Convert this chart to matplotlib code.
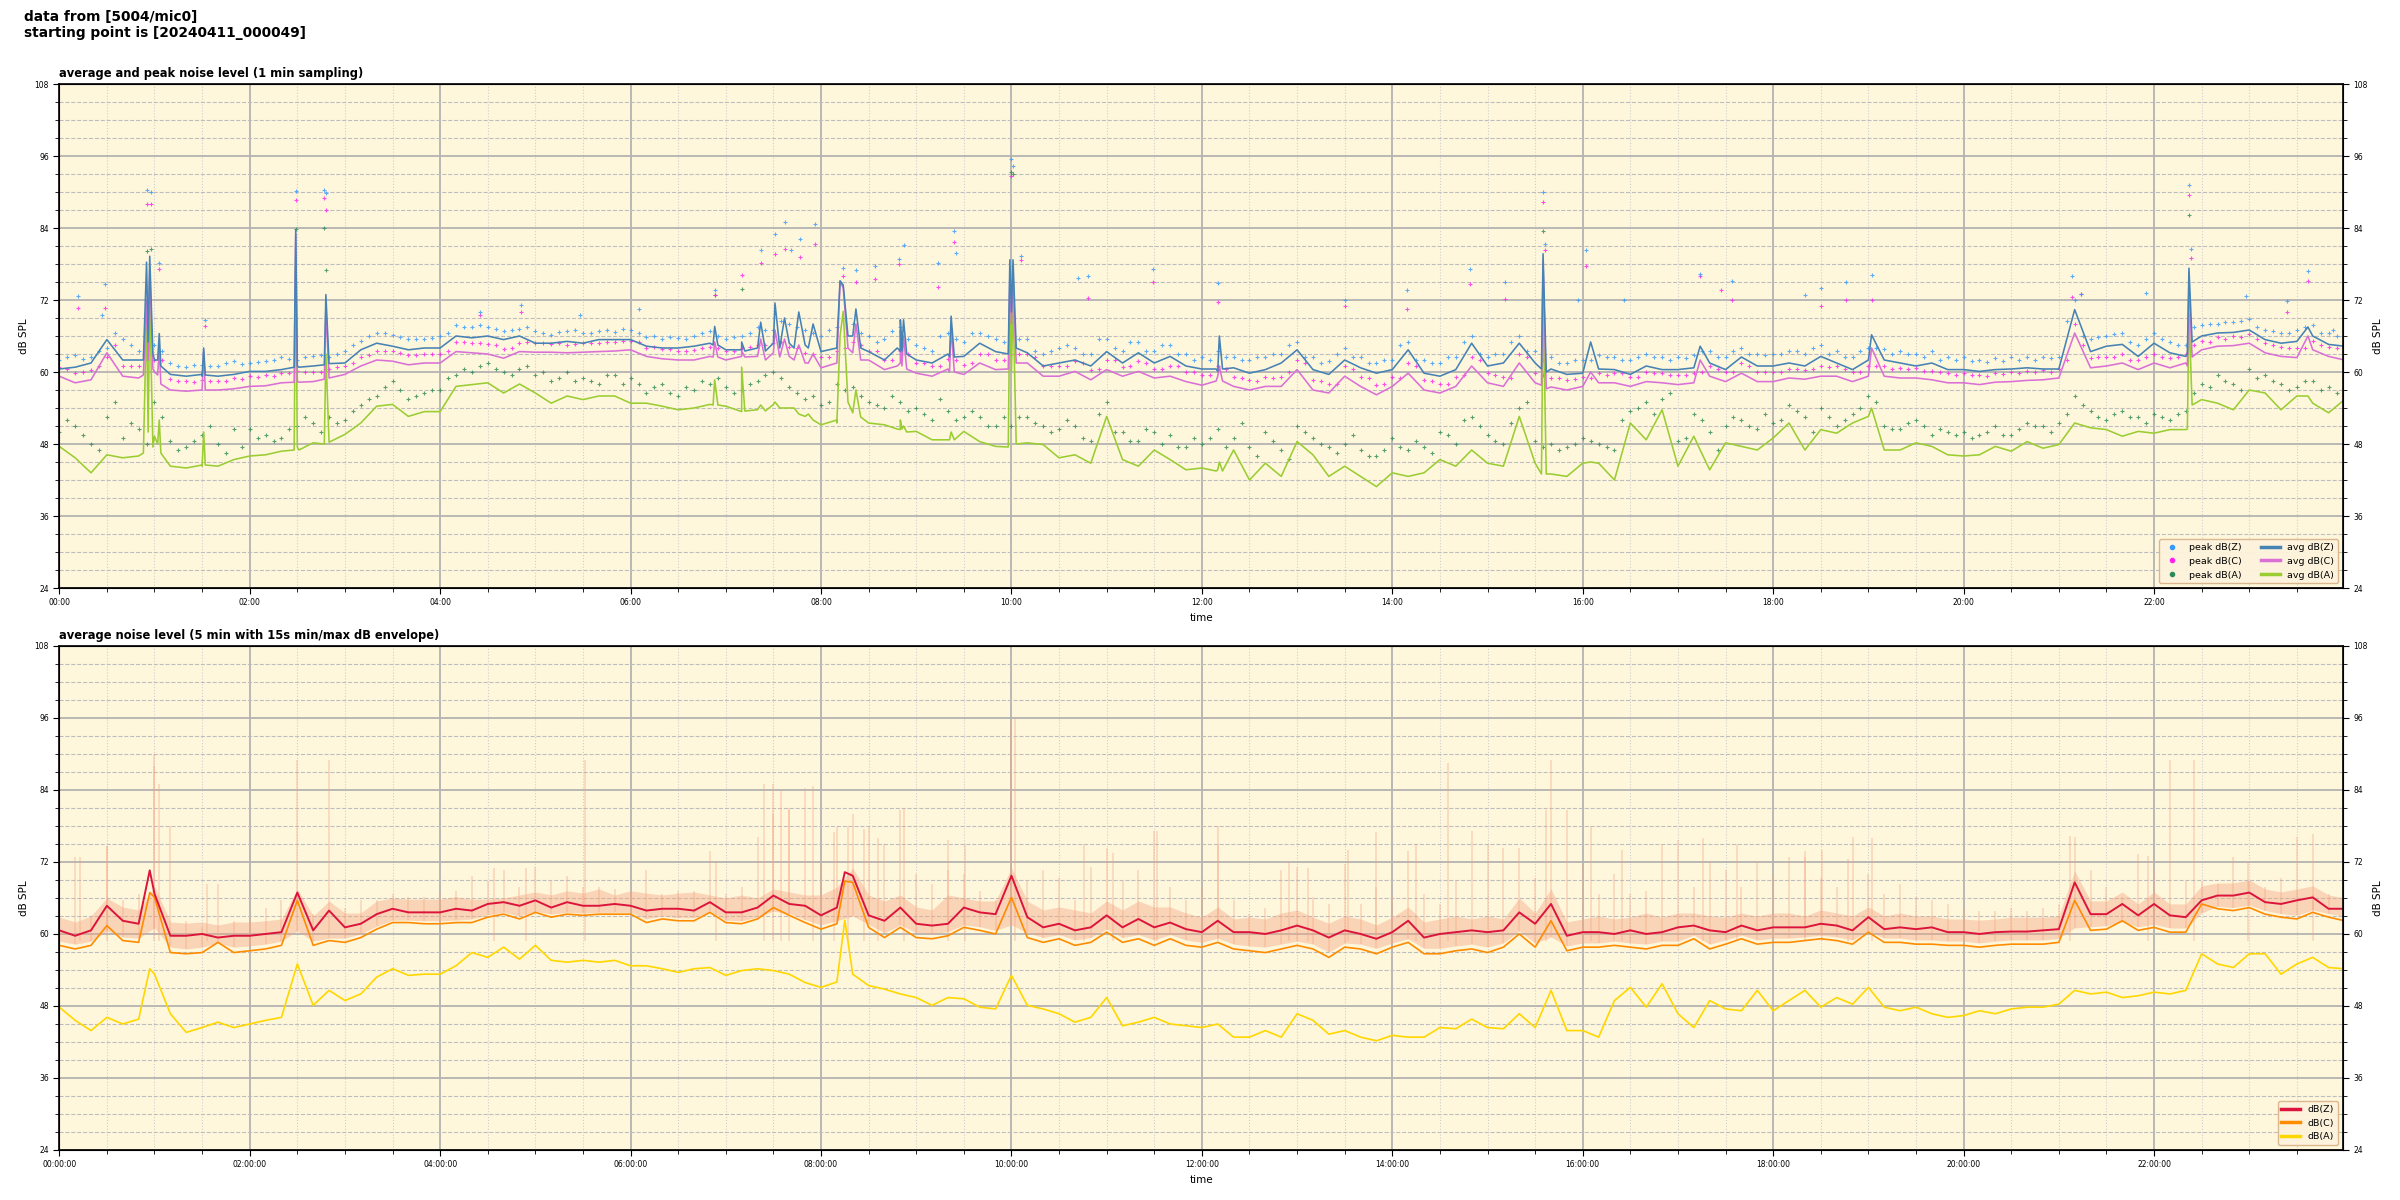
#!/usr/bin/env python3
"""Noise level of one day: 1 min avg/peak and 5 min avg with envelope."""
import numpy as np
import pandas as pd
import matplotlib

matplotlib.use("Agg")
import matplotlib.dates as mdates
import matplotlib.pyplot as plt
from matplotlib.lines import Line2D
from matplotlib.ticker import MultipleLocator

DAY = pd.Timestamp("2024-04-11")

# --- top panel: 1 min averages, read every 10 min (00:00 .. 24:00) ---
avg_minutes = np.arange(0, 1441, 10)
avg_z = [
    60.5, 60.8, 61.5, 65.4, 62.0, 62.0,  62.0, 59.6, 59.3, 59.6, 59.3, 59.6,
    60.1, 60.1, 60.4, 61.0, 61.0, 61.5,  61.5, 63.7, 64.8, 64.3, 63.7, 64.0,
    64.0, 66.0, 65.7, 66.0, 65.4, 66.0,  64.8, 64.8, 65.1, 64.8, 65.4, 65.4,
    65.4, 64.3, 64.0, 64.0, 64.3, 64.8,  63.7, 63.7, 64.0, 64.8, 64.8, 64.5,
    63.4, 64.0, 66.0, 63.4, 62.0, 63.5,  62.0, 61.5, 63.0, 62.6, 64.8, 63.4,
    70.0, 63.2, 61.0, 61.5, 62.0, 61.0,  63.4, 61.5, 63.2, 61.5, 62.6, 61.0,
    60.5, 60.1, 60.7, 59.8, 60.4, 61.5,  63.7, 60.4, 59.6, 62.0, 60.7, 59.8,
    60.4, 63.7, 59.8, 59.3, 60.4, 64.8,  61.0, 61.5, 64.8, 61.5, 60.5, 59.6,
    59.8, 60.5, 60.4, 59.6, 61.0, 60.4,  60.4, 60.7, 61.5, 60.4, 62.5, 61.0,
    61.0, 61.5, 61.0, 62.6, 61.5, 60.4,  62.0, 62.0, 61.5, 61.0, 61.5, 60.4,
    60.4, 60.1, 60.4, 60.5, 60.7, 60.5,  60.5, 70.4, 63.4, 64.3, 64.6, 62.6,
    64.8, 63.2, 62.6, 66.0, 66.5, 66.6,  67.0, 65.4, 64.8, 65.1, 66.0, 64.6,
    64.3,
]
avg_c = [
    59.3, 58.2, 58.7, 63.2, 59.3, 59.0,  60.0, 57.0, 56.8, 57.0, 57.0, 57.2,
    57.6, 57.7, 58.2, 58.4, 58.4, 59.0,  59.6, 61.0, 62.0, 61.8, 61.2, 61.5,
    61.5, 63.4, 63.2, 63.0, 62.3, 63.4,  63.3, 63.3, 63.2, 63.3, 63.4, 63.5,
    63.7, 62.6, 62.2, 62.0, 62.0, 62.6,  62.0, 62.6, 62.6, 63.2, 62.6, 61.5,
    60.7, 61.5, 63.2, 62.0, 60.4, 61.5,  59.8, 59.3, 60.5, 59.6, 61.5, 60.4,
    68.0, 61.5, 59.3, 59.3, 60.1, 58.7,  60.4, 59.3, 60.1, 59.0, 59.3, 58.4,
    57.8, 59.3, 57.6, 57.0, 57.6, 57.6,  60.4, 57.0, 56.5, 59.3, 57.6, 56.2,
    57.6, 59.8, 57.0, 56.5, 57.6, 61.0,  58.2, 57.6, 61.5, 58.2, 57.5, 57.0,
    57.6, 58.2, 58.2, 57.6, 58.4, 58.2,  57.9, 58.2, 59.3, 58.4, 59.8, 58.4,
    58.4, 59.0, 58.8, 59.3, 59.3, 58.4,  59.3, 59.3, 59.0, 59.0, 58.7, 58.2,
    58.2, 57.9, 58.3, 58.4, 58.6, 58.7,  59.0, 66.5, 60.7, 61.0, 61.5, 60.4,
    61.5, 60.7, 61.5, 63.7, 64.3, 64.4,  64.8, 63.2, 62.6, 62.4, 63.7, 62.6,
    62.0,
]
avg_a = [
    47.6, 45.7, 43.2, 46.2, 45.7, 46.0,  49.3, 44.3, 44.0, 44.5, 44.3, 45.4,
    46.0, 46.2, 46.8, 47.5, 48.2, 48.5,  49.6, 51.5, 54.3, 54.6, 52.6, 53.4,
    53.4, 57.6, 57.9, 58.2, 56.5, 58.0,  56.5, 54.8, 56.0, 55.4, 56.0, 56.0,
    54.8, 54.8, 54.3, 53.7, 54.0, 54.6,  54.3, 53.4, 53.7, 54.6, 54.0, 52.6,
    51.2, 52.0, 53.2, 51.5, 51.2, 50.4,  50.1, 48.7, 48.7, 50.1, 48.4, 47.6,
    60.0, 48.2, 47.9, 45.7, 46.2, 44.8,  52.6, 45.4, 44.3, 47.0, 45.4, 43.7,
    44.0, 43.7, 47.0, 42.0, 44.8, 42.6,  48.4, 46.2, 42.6, 44.3, 42.6, 40.9,
    43.2, 42.6, 43.2, 45.4, 44.3, 47.0,  44.8, 44.3, 52.6, 44.8, 43.0, 42.6,
    44.8, 44.8, 42.0, 51.5, 48.7, 53.7,  44.3, 49.3, 43.7, 48.2, 47.6, 47.0,
    49.0, 51.5, 47.0, 50.4, 49.8, 51.5,  52.6, 47.0, 47.0, 48.2, 47.6, 46.2,
    46.0, 46.2, 47.6, 46.8, 48.4, 47.3,  47.9, 51.5, 50.7, 50.4, 49.3, 50.1,
    49.8, 50.4, 50.4, 55.4, 54.8, 53.7,  57.0, 56.5, 53.7, 56.0, 54.8, 53.2,
    55.4,
]

# short events in the 1 min averages: minute, Z, C, A
spike_minutes = [
    53, 55, 56, 57, 59, 62, 63, 64, 90, 91, 92, 148, 149, 151, 167, 168, 170,
    412, 413, 415, 430, 432, 442, 445, 451, 454, 457, 463, 466, 472, 475,
    490, 492, 494, 497, 502, 505, 528, 530, 531, 532, 534, 561, 562, 564,
    598, 599, 601, 603, 729, 731, 733, 934, 935, 937, 965, 1034, 1142,
    1341, 1342, 1344, 1417,
]
spike_z = [
    62.0, 78.3, 65.0, 79.3, 63.0, 62.0, 66.4, 61.0, 59.3, 64.0, 59.5, 60.8, 83.7, 60.8, 61.2, 72.9, 61.4,
    64.5, 67.6, 64.5, 65.0, 63.5, 68.3, 63.5, 71.5, 64.0, 69.0, 64.0, 70.0, 64.0, 68.0,
    64.5, 75.2, 74.5, 66.0, 70.5, 64.0, 64.0, 68.7, 63.5, 68.7, 63.0, 62.5, 69.3, 62.5,
    63.0, 78.7, 78.7, 64.0, 60.5, 66.0, 60.5, 60.5, 79.7, 60.0, 65.0, 64.3, 66.2,
    63.0, 77.3, 65.0, 67.5,
]
spike_c = [
    59.5, 72.0, 62.0, 77.0, 60.5, 59.5, 64.0, 58.0, 57.0, 63.4, 57.0, 58.3, 83.0, 58.3, 58.8, 70.4, 59.0,
    62.5, 65.0, 62.5, 63.5, 62.5, 65.5, 62.0, 67.0, 62.5, 65.5, 62.0, 64.5, 61.5, 63.0,
    61.5, 75.1, 74.0, 64.0, 68.0, 62.0, 61.0, 67.0, 61.0, 66.0, 60.5, 60.0, 67.5, 60.0,
    60.5, 76.0, 76.0, 61.5, 58.5, 61.0, 58.5, 57.8, 78.4, 57.2, 60.0, 62.0, 64.0,
    61.0, 74.8, 62.5, 66.0,
]
spike_a = [
    46.5, 70.0, 50.0, 72.0, 47.5, 48.0, 52.0, 46.5, 44.3, 50.0, 44.5, 47.0, 79.0, 47.0, 48.0, 63.0, 48.3,
    54.5, 58.7, 54.5, 60.8, 53.5, 54.5, 53.5, 55.0, 54.0, 54.0, 54.0, 53.0, 53.0, 52.0,
    51.5, 66.0, 70.1, 55.0, 57.0, 52.5, 50.5, 52.0, 50.5, 51.0, 50.0, 48.7, 50.0, 48.7,
    47.5, 72.0, 72.0, 48.0, 43.5, 45.0, 43.5, 43.0, 73.2, 43.0, 45.0, 47.0, 54.0,
    50.5, 69.8, 54.5, 56.0,
]

# peak levels, two readings per 10 min (at :00 and :05, :10 and :15, ...)
peak_minutes = np.arange(5, 1440, 10)
peak_minutes2 = np.arange(0, 1440, 10)
peak_z = [
    62.5, 62.2, 63.5, 66.5, 64.5, 64.0,  63.5, 61.0, 61.2, 61.0, 61.5, 61.3,
    61.7, 62.0, 62.2, 62.5, 62.8, 63.0,  64.5, 66.0, 66.5, 65.8, 65.5, 65.7,
    66.5, 67.5, 67.8, 67.2, 67.0, 67.5,  66.5, 66.6, 67.0, 66.5, 67.0, 67.2,
    66.5, 66.0, 65.8, 65.5, 66.5, 66.0,  65.8, 66.5, 67.0, 68.5, 67.5, 66.5,
    67.0, 69.0, 66.5, 65.0, 66.8, 65.5,  64.0, 66.0, 65.5, 66.5, 66.0, 65.0,
    65.5, 63.5, 63.5, 64.5, 63.0, 65.5,  64.0, 65.0, 63.5, 64.5, 63.0, 62.0,
    62.0, 62.5, 62.0, 62.5, 63.0, 64.5,  62.5, 61.5, 63.0, 62.5, 61.5, 62.0,
    64.5, 62.0, 61.5, 62.5, 65.0, 63.0,  63.0, 65.0, 63.5, 62.0, 61.5, 62.0,
    62.0, 62.5, 62.0, 62.5, 62.5, 62.0,  62.3, 63.5, 62.5, 63.5, 63.0, 62.8,
    63.0, 63.5, 64.0, 63.0, 62.5, 63.5,  64.0, 63.0, 63.0, 62.5, 62.0, 62.0,
    61.8, 61.6, 61.8, 62.0, 62.0, 62.3,  68.5, 66.0, 65.8, 66.3, 65.0, 65.5,
    65.5, 64.5, 67.5, 68.0, 68.3, 68.5,  67.5, 66.8, 66.5, 67.5, 66.5, 66.0,
]
peak_z2 = [
    62.0, 62.8, 62.5, 64.0, 65.5, 63.5,  64.5, 61.5, 60.8, 61.2, 61.0, 61.8,
    61.5, 61.8, 62.5, 62.0, 62.6, 62.5,  63.5, 65.2, 66.5, 66.2, 65.5, 65.5,
    66.0, 67.8, 67.5, 67.5, 66.8, 67.2,  66.8, 66.2, 66.8, 66.5, 66.8, 66.6,
    67.0, 65.8, 65.5, 65.7, 66.0, 66.8,  65.5, 66.0, 67.5, 67.0, 68.0, 67.0,
    66.0, 67.5, 68.0, 66.0, 65.5, 67.5,  64.5, 63.5, 66.5, 65.0, 66.5, 65.5,
    66.0, 65.5, 63.0, 64.0, 64.0, 63.0,  65.5, 63.5, 65.0, 63.5, 64.5, 63.0,
    62.5, 63.5, 62.5, 62.0, 62.5, 63.0,  65.0, 62.5, 61.8, 64.0, 62.5, 61.5,
    62.0, 65.0, 62.0, 61.5, 62.5, 66.0,  62.5, 63.0, 66.0, 63.5, 62.5, 61.5,
    62.0, 62.8, 62.5, 62.0, 63.0, 62.5,  62.5, 62.8, 63.5, 62.5, 64.0, 63.0,
    63.0, 63.5, 63.0, 64.5, 63.5, 62.5,  64.0, 63.8, 63.5, 63.0, 63.5, 62.5,
    62.5, 62.0, 62.3, 62.5, 62.5, 62.5,  62.5, 72.0, 65.5, 66.0, 66.5, 64.5,
    66.5, 65.0, 64.5, 67.8, 68.0, 68.3,  68.8, 67.0, 66.5, 67.0, 67.8, 66.5,
]
peak_c = [
    60.5, 60.0, 61.0, 64.5, 61.0, 62.0,  62.0, 58.5, 58.3, 58.5, 58.5, 58.8,
    59.2, 59.3, 59.8, 60.0, 60.0, 60.8,  61.5, 62.8, 63.5, 63.2, 62.8, 63.0,
    63.5, 65.0, 64.8, 64.5, 64.0, 65.0,  64.8, 64.8, 64.7, 64.8, 65.0, 65.2,
    65.0, 64.2, 63.8, 63.5, 64.0, 64.0,  63.5, 64.2, 64.5, 65.0, 64.0, 63.0,
    62.5, 64.0, 64.5, 63.5, 62.0, 63.0,  61.5, 61.0, 62.0, 61.5, 63.0, 62.0,
    63.0, 62.5, 61.0, 61.0, 61.5, 60.5,  62.0, 61.0, 61.5, 60.5, 61.0, 60.0,
    59.5, 60.5, 59.0, 58.5, 59.0, 60.0,  61.5, 58.5, 58.0, 60.5, 59.0, 58.0,
    59.0, 61.0, 58.5, 58.0, 59.5, 62.0,  59.5, 59.0, 62.5, 59.5, 59.0, 58.8,
    59.0, 59.5, 59.8, 59.2, 59.8, 59.5,  59.5, 60.0, 60.5, 60.0, 61.0, 60.0,
    60.0, 60.5, 60.5, 60.8, 60.5, 60.0,  61.0, 60.5, 60.5, 60.2, 60.0, 59.5,
    59.5, 59.3, 59.6, 59.8, 60.0, 60.0,  62.0, 64.5, 62.5, 62.5, 62.0, 62.5,
    62.5, 62.5, 64.5, 65.0, 65.5, 65.8,  65.5, 64.5, 64.0, 64.0, 64.5, 64.0,
]
peak_c2 = [
    60.8, 59.8, 60.3, 62.5, 61.0, 61.0,  62.0, 58.8, 58.5, 58.7, 58.5, 59.0,
    59.3, 59.5, 59.8, 60.2, 60.0, 60.5,  61.0, 62.5, 63.5, 63.5, 62.8, 63.0,
    63.0, 65.0, 64.8, 64.6, 63.8, 64.8,  64.8, 64.6, 64.5, 64.8, 64.8, 65.0,
    65.2, 64.0, 63.8, 63.5, 63.7, 64.2,  63.5, 64.0, 64.5, 64.8, 64.2, 63.2,
    62.5, 63.5, 65.0, 63.5, 62.0, 63.5,  61.5, 61.0, 62.2, 61.2, 63.0, 62.0,
    63.0, 63.0, 61.0, 61.0, 61.8, 60.3,  62.0, 60.8, 61.8, 60.5, 61.0, 60.0,
    59.5, 61.0, 59.2, 58.6, 59.2, 59.2,  62.0, 58.6, 58.0, 61.0, 59.2, 57.8,
    59.2, 61.5, 58.6, 58.0, 59.2, 62.5,  59.8, 59.2, 63.0, 59.8, 59.0, 58.6,
    59.2, 59.8, 59.8, 59.2, 60.0, 59.8,  59.5, 59.8, 61.0, 60.0, 61.5, 60.0,
    60.0, 60.5, 60.3, 61.0, 61.0, 60.0,  61.0, 61.0, 60.6, 60.6, 60.2, 59.8,
    59.8, 59.5, 59.9, 60.0, 60.2, 60.3,  60.5, 68.0, 62.3, 62.5, 63.0, 62.0,
    63.0, 62.3, 63.0, 65.2, 65.8, 66.0,  66.3, 64.8, 64.2, 64.0, 65.2, 64.2,
]
peak_a = [
    52.0, 49.5, 47.0, 55.0, 51.5, 48.0,  52.5, 47.0, 48.5, 51.0, 46.5, 47.5,
    49.0, 48.5, 50.5, 52.5, 50.0, 51.5,  53.5, 55.5, 57.5, 57.0, 56.0, 57.0,
    59.0, 60.5, 61.0, 60.5, 59.5, 61.0,  60.0, 59.0, 58.5, 58.5, 59.5, 58.0,
    58.0, 57.5, 56.5, 57.5, 58.5, 59.0,  56.5, 58.0, 59.5, 59.0, 56.5, 56.0,
    55.0, 57.0, 56.0, 54.5, 56.0, 53.5,  53.0, 55.5, 52.0, 53.5, 51.0, 52.5,
    52.5, 51.5, 50.0, 52.0, 49.0, 53.0,  50.0, 48.5, 50.5, 48.0, 47.5, 49.0,
    49.0, 47.5, 51.5, 46.0, 48.5, 45.5,  50.0, 48.0, 46.5, 49.5, 46.0, 47.0,
    47.5, 48.5, 46.5, 49.5, 52.0, 51.0,  48.5, 51.5, 55.0, 47.5, 47.0, 48.0,
    48.5, 47.5, 52.0, 54.0, 53.0, 56.5,  49.0, 52.0, 47.0, 52.5, 51.0, 53.0,
    52.0, 53.5, 50.0, 52.5, 52.0, 54.0,  55.0, 50.5, 51.5, 51.0, 50.5, 49.5,
    49.0, 50.0, 49.5, 50.5, 51.0, 50.0,  53.0, 54.5, 52.5, 53.0, 52.5, 51.5,
    52.5, 53.0, 56.5, 57.5, 58.5, 57.0,  59.0, 58.5, 57.0, 58.5, 57.0, 56.5,
]
peak_a2 = [
    50.0, 51.0, 48.0, 52.5, 49.0, 50.5,  55.0, 48.5, 47.5, 49.5, 48.0, 50.5,
    50.5, 49.5, 49.0, 51.0, 51.5, 52.5,  52.0, 54.5, 56.0, 58.5, 55.5, 56.5,
    57.0, 59.5, 60.0, 61.5, 60.0, 60.5,  59.5, 58.5, 60.0, 59.0, 58.0, 59.5,
    59.0, 56.5, 58.0, 56.0, 57.0, 58.0,  57.5, 57.0, 58.5, 60.0, 57.5, 55.5,
    54.5, 58.0, 57.5, 55.0, 54.0, 55.0,  54.0, 52.0, 53.5, 52.5, 52.5, 51.0,
    51.0, 52.5, 51.0, 50.5, 51.0, 48.5,  55.0, 50.0, 48.5, 50.0, 49.5, 47.5,
    48.0, 50.5, 49.0, 47.5, 50.0, 47.0,  51.0, 49.0, 47.5, 48.0, 47.0, 46.0,
    49.0, 47.0, 47.5, 50.0, 48.0, 52.5,  49.5, 48.0, 54.0, 48.5, 48.0, 47.5,
    49.0, 48.0, 47.0, 53.5, 55.0, 55.5,  48.5, 53.0, 50.0, 51.0, 52.0, 50.5,
    51.5, 54.5, 52.5, 54.0, 51.0, 53.0,  56.0, 51.0, 50.5, 52.0, 49.5, 50.0,
    50.0, 49.5, 51.0, 49.5, 51.5, 51.0,  51.5, 56.0, 53.5, 52.0, 53.5, 52.5,
    53.0, 52.0, 53.5, 58.0, 59.5, 58.0,  60.5, 59.5, 58.0, 57.5, 58.5, 57.5,
]

# single high peak readings
peak_z_out_min = [12, 27, 29, 55, 58, 63, 92, 149, 167, 168, 265, 291, 328, 365, 413, 442, 451, 457,
                  461, 467, 476, 494, 502, 514, 529, 532, 554, 564, 565, 600, 601, 606, 642, 648,
                  689, 730, 810, 849, 889, 911, 935, 936, 957, 962, 986, 1034, 1054, 1100, 1110,
                  1126, 1142, 1268, 1274, 1315, 1342, 1343, 1378, 1404, 1417, 1433]
peak_z_out = [72.7, 69.5, 74.7, 90.4, 90.0, 78.2, 68.6, 90.2, 90.4, 89.8, 70.0, 71.2, 69.5, 70.5, 73.7,
              80.4, 83.0, 85.0, 80.4, 82.2, 84.6, 77.4, 77.0, 77.7, 78.8, 81.2, 78.2, 83.5, 79.8, 95.5,
              94.3, 79.4, 75.7, 76.0, 77.2, 74.8, 72.0, 73.7, 77.1, 75.0, 90.0, 81.3, 72.0, 80.4, 72.0,
              76.3, 75.2, 72.9, 74.0, 75.0, 76.2, 76.0, 73.0, 73.2, 91.2, 80.5, 72.6, 71.9, 76.8, 67.0]
peak_c_out_min = [12, 29, 55, 58, 63, 92, 149, 167, 168, 265, 291, 413, 430, 442, 451, 457, 467, 476,
                  494, 502, 514, 529, 554, 564, 600, 606, 648, 689, 730, 810, 849, 889, 911, 935,
                  936, 962, 1034, 1047, 1054, 1110, 1126, 1142, 1268, 1274, 1342, 1343, 1404, 1417]
peak_c_out = [70.7, 70.7, 88.0, 88.0, 77.2, 67.6, 88.6, 89.0, 87.0, 69.5, 70.0, 72.8, 76.2, 78.2, 79.6,
              80.5, 79.2, 81.4, 76.0, 75.0, 75.5, 78.0, 74.2, 81.6, 92.6, 78.6, 72.3, 75.0, 71.7, 71.0,
              70.5, 74.7, 72.2, 88.3, 80.3, 77.7, 76.0, 73.7, 72.0, 71.0, 72.0, 72.0, 72.5, 73.0, 89.5,
              79.0, 70.0, 75.2]
peak_a_out_min = [55, 58, 149, 167, 168, 413, 430, 600, 601, 935, 1342]
peak_a_out = [80.1, 80.5, 83.8, 84.0, 77.0, 72.8, 73.8, 93.4, 93.0, 83.5, 86.2]

# --- bottom panel: 5 min averages, read every 10 min ---
bot_z = [
    60.6, 59.7, 60.6, 64.7, 62.2, 61.7, 66.7, 59.7, 59.7, 60.0, 59.4, 59.7,
    59.7, 60.0, 60.3, 66.9, 60.6, 63.9, 61.1, 61.7, 63.3, 64.2, 63.6, 63.6,
    63.6, 64.2, 63.9, 65.0, 65.3, 64.7, 65.6, 64.4, 65.3, 64.7, 64.7, 65.0,
    64.7, 63.9, 64.2, 64.2, 63.9, 65.3, 63.6, 63.6, 64.4, 66.4, 65.0, 64.7,
    63.1, 64.4, 69.7, 63.1, 62.2, 64.4, 61.7, 61.4, 61.7, 64.4, 63.6, 63.3,
    69.7, 62.8, 61.1, 61.7, 60.6, 61.1, 63.1, 61.1, 62.5, 61.1, 61.9, 60.8,
    60.3, 62.2, 60.3, 60.3, 60.0, 60.6, 61.4, 60.6, 59.4, 60.6, 60.0, 59.2,
    60.3, 62.2, 59.4, 60.0, 60.3, 60.6, 60.3, 60.6, 63.6, 61.7, 65.0, 59.7,
    60.3, 60.3, 60.0, 60.6, 60.0, 60.3, 61.1, 61.4, 60.6, 60.3, 61.4, 60.6,
    61.1, 61.1, 61.1, 61.7, 61.4, 60.6, 62.8, 60.8, 61.1, 60.8, 61.1, 60.3,
    60.3, 60.0, 60.3, 60.4, 60.4, 60.6, 60.8, 68.6, 63.3, 63.3, 65.0, 63.1,
    65.0, 63.1, 62.8, 65.6, 66.4, 66.4, 66.9, 65.3, 65.0, 65.6, 66.1, 64.2,
    64.2,
]
bot_c = [
    58.1, 57.5, 58.1, 61.4, 58.9, 58.6, 66.1, 56.9, 56.7, 56.9, 58.6, 56.9,
    57.2, 57.5, 58.1, 65.6, 58.1, 58.9, 58.6, 59.4, 60.8, 61.9, 61.9, 61.7,
    61.7, 61.9, 61.9, 62.8, 63.3, 62.5, 63.6, 62.8, 63.3, 63.1, 63.3, 63.3,
    63.3, 61.9, 62.5, 62.2, 62.2, 63.6, 61.9, 61.7, 62.5, 64.4, 63.1, 61.9,
    60.8, 61.7, 68.6, 61.1, 59.4, 61.1, 59.4, 59.2, 59.7, 61.1, 60.6, 60.0,
    66.1, 59.4, 58.6, 59.2, 58.1, 58.6, 60.3, 58.6, 59.2, 58.1, 59.2, 58.1,
    57.8, 58.6, 57.5, 57.2, 56.9, 57.5, 58.1, 57.5, 56.1, 57.8, 57.5, 56.7,
    57.8, 58.6, 56.7, 56.7, 57.2, 57.5, 56.9, 57.8, 60.0, 57.8, 62.2, 57.2,
    57.8, 57.8, 58.1, 57.8, 57.5, 58.1, 58.1, 59.2, 57.5, 58.3, 59.2, 58.3,
    58.6, 58.6, 58.9, 59.2, 58.9, 58.3, 60.3, 58.6, 58.6, 58.3, 58.3, 58.1,
    58.1, 57.8, 58.1, 58.3, 58.3, 58.3, 58.6, 65.6, 60.6, 60.8, 62.2, 60.6,
    61.1, 60.3, 60.3, 65.0, 64.2, 63.9, 64.4, 63.3, 62.8, 62.5, 63.6, 62.8,
    62.2,
]
bot_a = [
    47.8, 45.6, 43.9, 46.1, 45.0, 45.8, 53.3, 46.7, 43.6, 44.4, 45.3, 44.4,
    45.0, 45.6, 46.1, 55.0, 48.1, 50.6, 48.9, 50.0, 52.8, 54.2, 53.1, 53.3,
    53.3, 54.7, 56.9, 56.1, 57.8, 55.8, 58.1, 55.6, 55.3, 55.6, 55.3, 55.6,
    54.7, 54.7, 54.2, 53.6, 54.2, 54.4, 53.1, 53.9, 54.2, 53.9, 53.3, 51.9,
    51.1, 52.0, 53.3, 51.4, 50.8, 50.0, 49.4, 48.1, 49.4, 49.2, 47.8, 47.5,
    53.1, 48.1, 47.5, 46.7, 45.3, 46.1, 49.4, 44.7, 45.3, 46.1, 45.0, 44.7,
    44.4, 45.0, 42.8, 42.8, 43.9, 42.8, 46.7, 45.6, 43.3, 43.9, 42.8, 42.2,
    43.1, 42.8, 42.8, 44.4, 44.2, 45.8, 44.4, 44.2, 46.7, 44.4, 50.6, 43.9,
    43.9, 42.8, 48.9, 51.1, 47.8, 51.7, 46.7, 44.4, 48.9, 47.5, 47.2, 50.6,
    47.2, 48.9, 50.6, 47.8, 49.4, 48.3, 51.1, 47.8, 47.2, 47.8, 46.7, 46.1,
    46.4, 47.2, 46.7, 47.5, 47.8, 47.8, 48.3, 50.6, 50.0, 50.3, 49.4, 49.7,
    50.3, 50.0, 50.6, 56.7, 55.0, 54.4, 56.7, 56.7, 53.3, 55.0, 56.1, 54.4,
    54.2,
]
bot_spike_minutes = [57, 495]
bot_spike_z = [70.6, 70.3]
bot_spike_c = [66.9, 68.8]
bot_spike_a = [54.2, 62.3]

# 15 s min/max envelope, read every 10 min: lower edge, dense upper edge, highest max
env_min = [
    58.8, 58.3, 58.8, 60.5, 59.5, 59.3, 61.0, 57.8, 57.5, 57.8, 58.5, 57.8,
    58.0, 58.3, 58.8, 60.5, 58.8, 59.3, 59.3, 60.0, 61.3, 62.3, 62.3, 62.2,
    62.2, 62.3, 62.5, 63.2, 63.6, 63.0, 63.8, 63.3, 63.6, 63.5, 63.6, 63.6,
    63.6, 62.5, 63.0, 62.7, 62.7, 63.8, 62.3, 62.2, 62.8, 63.8, 63.4, 62.4,
    61.5, 62.2, 63.0, 61.6, 60.2, 61.5, 60.2, 60.0, 60.4, 61.5, 61.2, 60.6,
    61.5, 60.2, 59.4, 59.9, 59.0, 59.4, 60.8, 59.4, 59.9, 59.0, 59.9, 59.0,
    58.6, 59.3, 58.3, 58.0, 57.8, 58.3, 58.8, 58.3, 57.0, 58.5, 58.3, 57.6,
    58.5, 59.2, 57.6, 57.6, 58.0, 58.3, 57.8, 58.5, 60.5, 58.5, 59.5, 58.0,
    58.5, 58.5, 58.8, 58.5, 58.3, 58.8, 58.8, 59.8, 58.3, 59.0, 59.8, 59.0,
    59.3, 59.3, 59.5, 59.8, 59.5, 59.0, 60.5, 59.3, 59.3, 59.0, 59.0, 58.8,
    58.8, 58.5, 58.8, 59.0, 59.0, 59.0, 59.3, 61.0, 61.2, 61.4, 62.0, 61.2,
    61.6, 61.0, 61.0, 63.5, 64.6, 64.4, 64.8, 63.9, 63.4, 63.1, 64.0, 63.4,
    62.9,
]
env_top = [
    62.8, 62.0, 63.0, 66.0, 64.5, 64.0, 68.0, 62.0, 61.8, 62.0, 61.5, 62.0,
    62.0, 62.2, 62.5, 67.5, 63.0, 65.5, 63.5, 63.5, 65.5, 66.0, 65.8, 65.8,
    65.8, 66.2, 65.8, 65.8, 66.0, 66.5, 67.0, 66.5, 67.2, 66.8, 67.5, 66.5,
    67.2, 66.8, 66.5, 66.8, 67.0, 66.5, 66.0, 66.5, 66.0, 67.5, 67.0, 66.5,
    66.5, 67.8, 71.0, 66.5, 65.5, 66.5, 64.5, 64.0, 66.5, 66.0, 65.5, 65.5,
    71.0, 65.5, 64.0, 64.5, 64.0, 63.5, 65.5, 64.0, 65.5, 64.5, 64.5, 63.5,
    62.8, 64.5, 62.5, 62.8, 62.5, 63.5, 64.0, 62.8, 61.8, 63.0, 62.5, 61.5,
    62.8, 64.5, 62.0, 62.5, 63.0, 62.5, 63.0, 62.5, 66.0, 63.5, 67.5, 62.0,
    62.5, 63.0, 62.5, 62.8, 63.5, 62.8, 63.5, 63.5, 63.0, 62.8, 63.5, 63.0,
    63.5, 63.5, 63.0, 64.0, 63.5, 63.0, 64.5, 63.0, 63.5, 63.0, 63.0, 62.5,
    62.5, 62.3, 62.5, 62.8, 62.8, 62.8, 63.0, 70.5, 65.5, 65.5, 67.0, 65.0,
    67.0, 65.0, 65.0, 68.0, 68.5, 68.5, 69.0, 67.5, 67.0, 67.5, 68.0, 66.5,
    66.0,
]
env_max = [
    63.3, 72.8, 62.8, 74.7, 65.6, 66.7, 90.0, 78.0, 62.2, 61.1, 68.3, 62.2,
    62.8, 64.4, 65.6, 89.0, 63.3, 89.0, 64.4, 65.6, 65.6, 66.7, 66.1, 66.1,
    66.7, 67.2, 69.7, 68.9, 70.6, 67.8, 71.1, 68.9, 69.7, 67.8, 67.8, 67.5,
    66.7, 70.6, 66.7, 67.2, 67.2, 73.9, 66.7, 67.8, 76.1, 85.0, 80.6, 84.4,
    72.2, 77.8, 80.0, 77.8, 75.0, 80.6, 70.0, 68.3, 70.6, 70.0, 67.2, 65.6,
    95.5, 68.9, 70.6, 69.4, 65.6, 71.1, 74.4, 68.9, 70.6, 77.2, 67.8, 65.6,
    67.8, 75.0, 65.6, 63.3, 64.4, 70.6, 71.1, 66.1, 65.0, 71.7, 65.0, 67.8,
    66.1, 73.9, 66.7, 65.0, 68.9, 77.2, 75.0, 74.4, 74.4, 69.4, 89.0, 80.6,
    71.7, 66.7, 70.0, 66.7, 67.2, 75.0, 75.6, 67.8, 72.2, 70.6, 67.8, 72.2,
    70.0, 72.8, 73.9, 69.4, 67.8, 76.1, 70.0, 66.7, 68.3, 66.1, 65.6, 65.0,
    64.4, 63.9, 63.9, 64.4, 63.9, 64.4, 65.0, 76.1, 70.6, 67.8, 66.1, 73.3,
    70.6, 89.0, 68.9, 68.9, 68.3, 72.8, 68.9, 67.8, 69.4, 76.1, 66.7, 66.7,
    65.6,
]
# extra tall 15 s maxima between the 10 min readings
env_peak_minutes = [13, 30, 60, 63, 93, 274, 294, 331, 414, 444, 450, 455, 460, 475, 488, 497, 507,
                    516, 532, 560, 571, 602, 646, 664, 692, 730, 775, 787, 812, 830, 855, 875, 937,
                    965, 985, 1036, 1057, 1100, 1111, 1127, 1142, 1267, 1316, 1345, 1379, 1420]
env_peak_val = [72.8, 74.7, 88.0, 85.0, 68.3, 71.0, 71.0, 89.0, 72.2, 85.0, 80.0, 84.0, 81.0, 84.7,
                77.0, 78.0, 77.5, 76.0, 81.0, 75.6, 75.0, 96.0, 75.0, 73.5, 77.2, 78.0, 72.0, 71.0,
                74.0, 77.0, 75.0, 88.5, 80.6, 78.0, 74.0, 76.0, 75.0, 72.8, 74.0, 72.5, 76.0, 76.4,
                73.0, 89.0, 72.0, 76.7]


def to_time(minutes):
    return DAY + pd.to_timedelta(np.asarray(minutes, dtype=float), unit="min")


def merged(base_min, base_val, extra_min, extra_val):
    t = np.concatenate([np.asarray(base_min, float), np.asarray(extra_min, float)])
    v = np.concatenate([np.asarray(base_val, float), np.asarray(extra_val, float)])
    order = np.argsort(t, kind="stable")
    return to_time(t[order]), v[order]


FACE = "#fff7dc"
TICK_SIZE = 5.5
LABEL_SIZE = 7.5


def style_axis(ax, time_fmt):
    ax.set_facecolor(FACE)
    ax.set_ylim(24, 108)
    ax.set_xlim(DAY, DAY + pd.Timedelta(minutes=1439))
    ax.yaxis.set_major_locator(MultipleLocator(12))
    ax.yaxis.set_minor_locator(MultipleLocator(3))
    ax.xaxis.set_major_locator(mdates.HourLocator(byhour=range(0, 24, 2)))
    ax.xaxis.set_minor_locator(mdates.MinuteLocator(byminute=[0, 30]))
    ax.xaxis.set_major_formatter(mdates.DateFormatter(time_fmt))
    ax.grid(True, which="major", color="#b3b3b3", linewidth=1.3)
    ax.yaxis.grid(True, which="minor", color="#bdbdbd", linestyle="--", linewidth=0.8)
    ax.xaxis.grid(True, which="minor", color="#cfcfcf", linestyle=":", linewidth=0.8)
    ax.set_axisbelow(True)
    ax.tick_params(labelsize=TICK_SIZE, length=4)
    ax.tick_params(which="minor", length=3)
    ax.set_xlabel("time", fontsize=LABEL_SIZE)
    ax.set_ylabel("dB SPL", fontsize=LABEL_SIZE)
    for side in ax.spines.values():
        side.set_linewidth(1.2)

    right = ax.twinx()
    right.set_ylim(24, 108)
    right.yaxis.set_major_locator(MultipleLocator(12))
    right.yaxis.set_minor_locator(MultipleLocator(3))
    right.tick_params(labelsize=TICK_SIZE, length=4)
    right.tick_params(which="minor", length=3)
    right.set_ylabel("dB SPL", fontsize=LABEL_SIZE)


fig = plt.figure(figsize=(24, 12), dpi=100)
fig.text(0.01, 0.992, "data from [5004/mic0]\nstarting point is [20240411_000049]",
         fontsize=9.9, fontweight="bold", va="top", ha="left")

ax_top = fig.add_axes([0.0247, 0.51, 0.9515, 0.42])
ax_bot = fig.add_axes([0.0247, 0.0417, 0.9515, 0.42])
style_axis(ax_top, "%H:%M")
style_axis(ax_bot, "%H:%M:%S")

# top: peaks as small crosses, averages as lines
colors_peak = {"Z": "#3399ff", "C": "#ff22ee", "A": "#2e8b57"}
colors_avg = {"Z": "#4682b4", "C": "#da70d6", "A": "#9acd32"}
for key, vals, vals2, out_min, out_val in (
    ("A", peak_a, peak_a2, peak_a_out_min, peak_a_out),
    ("C", peak_c, peak_c2, peak_c_out_min, peak_c_out),
    ("Z", peak_z, peak_z2, peak_z_out_min, peak_z_out),
):
    for t, v in ((peak_minutes, vals), (peak_minutes2, vals2), (out_min, out_val)):
        ax_top.plot(to_time(t), v, linestyle="none", marker="+", markersize=3.2,
                    markeredgewidth=0.8, color=colors_peak[key], alpha=0.8)

for key, vals, sp in (("A", avg_a, spike_a), ("C", avg_c, spike_c), ("Z", avg_z, spike_z)):
    t, v = merged(avg_minutes, vals, spike_minutes, sp)
    ax_top.plot(t, v, color=colors_avg[key], linewidth=1.15)

top_handles = [
    Line2D([], [], linestyle="none", marker="o", markersize=3, color=colors_peak["Z"]),
    Line2D([], [], linestyle="none", marker="o", markersize=3, color=colors_peak["C"]),
    Line2D([], [], linestyle="none", marker="o", markersize=3, color=colors_peak["A"]),
    Line2D([], [], color=colors_avg["Z"], linewidth=2.5),
    Line2D([], [], color=colors_avg["C"], linewidth=2.5),
    Line2D([], [], color=colors_avg["A"], linewidth=2.5),
]
top_labels = ["peak dB(Z)", "peak dB(C)", "peak dB(A)", "avg dB(Z)", "avg dB(C)", "avg dB(A)"]
leg = ax_top.legend(top_handles, top_labels, loc="lower right", ncol=2, fontsize=6.8,
                    facecolor="#fdf3dc", edgecolor="#d9b48c", framealpha=0.95)
leg.set_zorder(10)
ax_top.set_title("average and peak noise level (1 min sampling)", loc="left",
                 fontsize=8.3, fontweight="bold", pad=5)

# bottom: envelope (dense band + thin max spikes) and 5 min averages
env_color = "#f4a582"
avg_t = to_time(avg_minutes)
ax_bot.fill_between(avg_t, env_min, env_top, color=env_color, alpha=0.42, linewidth=0)
ax_bot.vlines(avg_t, env_min, env_max, color=env_color, alpha=0.4, linewidth=1.2)
ax_bot.vlines(to_time(env_peak_minutes), env_min[0], env_peak_val, color=env_color,
              alpha=0.4, linewidth=1.2)
bot_colors = {"Z": "#dc143c", "C": "#ff8c00", "A": "#ffd700"}
for key, vals, sp, lw in (("A", bot_a, bot_spike_a, 1.2), ("C", bot_c, bot_spike_c, 1.2),
                          ("Z", bot_z, bot_spike_z, 1.4)):
    t, v = merged(avg_minutes, vals, bot_spike_minutes, sp)
    ax_bot.plot(t, v, color=bot_colors[key], linewidth=lw)

bot_handles = [Line2D([], [], color=bot_colors[k], linewidth=2.5) for k in ("Z", "C", "A")]
leg2 = ax_bot.legend(bot_handles, ["dB(Z)", "dB(C)", "dB(A)"], loc="lower right", fontsize=6.8,
                     facecolor="#fdf3dc", edgecolor="#d9b48c", framealpha=0.95)
leg2.set_zorder(10)
ax_bot.set_title("average noise level (5 min with 15s min/max dB envelope)", loc="left",
                 fontsize=8.3, fontweight="bold", pad=5)

fig.savefig("out.png", dpi=100)
